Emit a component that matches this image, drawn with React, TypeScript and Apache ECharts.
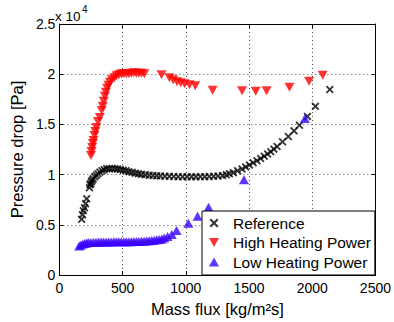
import React, { useEffect, useRef } from "react";
import * as echarts from "echarts";

const xTicks = [0, 500, 1000, 1500, 2000, 2500];
const yTicks = [0, 5000, 10000, 15000, 20000, 25000];

const referenceData: [number, number][] = [
  [176, 5560], [183, 6000], [190, 6400], [199, 6700], [207, 7100], [216, 7600],
  [238, 8700], [242, 9000], [248, 9100], [253, 9300], [260, 9450], [268, 9600],
  [280, 9800], [292, 9950], [305, 10100], [320, 10250], [337, 10400], [355, 10500],
  [375, 10600], [396, 10600], [418, 10620], [440, 10600], [460, 10570], [482, 10520],
  [505, 10450], [527, 10380], [550, 10300], [575, 10230], [600, 10150], [625, 10080],
  [650, 10030], [680, 9980], [710, 9950], [740, 9920], [770, 9900], [800, 9870],
  [835, 9850], [870, 9830], [905, 9810], [940, 9800], [975, 9790], [1010, 9790],
  [1045, 9780], [1080, 9780], [1115, 9790], [1150, 9800], [1185, 9810], [1220, 9830],
  [1255, 9860], [1290, 9920], [1320, 10000], [1345, 10100], [1376, 10200], [1410, 10380],
  [1445, 10570], [1474, 10760], [1503, 10970], [1533, 11180], [1563, 11390], [1592, 11610],
  [1621, 11830], [1647, 12050], [1672, 12280], [1697, 12540], [1722, 12810], [1765, 13270],
  [1811, 13800], [1856, 14360], [1899, 14920], [1962, 15800], [2025, 16800], [2139, 18480],
];

const highPowerData: [number, number][] = [
  [250, 11900], [255, 12300], [260, 12700], [265, 13100], [270, 13400], [278, 13900],
  [285, 14300], [293, 14700], [305, 15300], [320, 15700], [335, 16400], [343, 16800],
  [351, 17300], [360, 17800], [368, 18200], [378, 18600], [388, 18900], [400, 19200],
  [415, 19450], [434, 19650], [452, 19850], [470, 19950], [490, 20050], [510, 20050],
  [530, 20050], [550, 20050], [570, 20100], [590, 20150], [610, 20100], [630, 20100],
  [650, 20100], [672, 20050], [808, 19950], [870, 19650], [900, 19450], [930, 19250],
  [960, 19150], [990, 19050], [1030, 18950], [1075, 18850], [1212, 18400], [1445, 18350],
  [1553, 18300], [1639, 18350], [1820, 18700], [1975, 19300], [2083, 19900],
];

const lowPowerData: [number, number][] = [
  [157, 2900], [170, 3000], [185, 3100], [200, 3150], [215, 3200], [230, 3250],
  [250, 3250], [270, 3280], [290, 3280], [310, 3300], [330, 3300], [350, 3300],
  [370, 3300], [390, 3300], [410, 3300], [430, 3320], [450, 3320], [470, 3320],
  [490, 3320], [510, 3330], [530, 3330], [550, 3330], [570, 3330], [590, 3340],
  [610, 3340], [630, 3350], [650, 3360], [670, 3380], [690, 3400], [710, 3420],
  [730, 3450], [750, 3480], [770, 3520], [790, 3550], [810, 3600], [830, 3700],
  [856, 3850], [889, 4050], [927, 4450], [1020, 5150], [1093, 5850], [1180, 6750],
  [1460, 9500], [1942, 15600],
];

const seriesNames = ["Reference", "High Heating Power", "Low Heating Power"];

const CROSS = "path://M0,1.6L1.6,0L5,3.4L8.4,0L10,1.6L6.6,5L10,8.4L8.4,10L5,6.6L1.6,10L0,8.4L3.4,5Z";
const TRI_DOWN = "path://M0,0L10,0L5,9Z";
const TRI_UP = "path://M5,0L10,9L0,9Z";

const FONT = "'Liberation Sans', Arial, Helvetica, sans-serif";

export default function App() {
  const ref = useRef<HTMLDivElement>(null);

  useEffect(() => {
    if (!ref.current) return;
    const chart = echarts.init(ref.current, undefined, { renderer: "svg" });
    const gridLine = { show: true, lineStyle: { color: "#222", width: 0.8, type: [1, 3] as any } };
    const axisLine = { show: true, onZero: false, lineStyle: { color: "#000", width: 1 } };
    const tick = { show: true, inside: true, length: 4, lineStyle: { color: "#000" } };
    chart.setOption({
      animation: false,
      backgroundColor: "#fff",
      grid: { left: 51, top: 24, right: 12.5, bottom: 45, containLabel: false },
      xAxis: [
        {
          type: "value",
          min: xTicks[0],
          max: xTicks[xTicks.length - 1],
          interval: 500,
          position: "bottom",
          axisLine,
          axisTick: tick,
          axisLabel: {
            fontSize: 14,
            color: "#000",
            fontFamily: FONT,
            margin: 6,
            formatter: (v: number) => String(v),
          },
          splitLine: gridLine,
          name: "Mass flux [kg/m²s]",
          nameLocation: "middle",
          nameGap: 23,
          nameTextStyle: { fontSize: 16.5, color: "#000", fontFamily: FONT },
        },
        {
          type: "value",
          min: xTicks[0],
          max: xTicks[xTicks.length - 1],
          interval: 500,
          position: "top",
          axisLine,
          axisTick: tick,
          axisLabel: { show: false },
          splitLine: { show: false },
        },
      ],
      yAxis: [
        {
          type: "value",
          min: yTicks[0],
          max: yTicks[yTicks.length - 1],
          interval: 5000,
          position: "left",
          axisLine,
          axisTick: tick,
          axisLabel: {
            fontSize: 14,
            color: "#000",
            fontFamily: FONT,
            margin: 4,
            formatter: (v: number) => String(v / 10000),
          },
          splitLine: gridLine,
          name: "Pressure drop [Pa]",
          nameLocation: "middle",
          nameGap: 28,
          nameTextStyle: { fontSize: 16.5, color: "#000", fontFamily: FONT },
        },
        {
          type: "value",
          min: yTicks[0],
          max: yTicks[yTicks.length - 1],
          interval: 5000,
          position: "right",
          axisLine,
          axisTick: tick,
          axisLabel: { show: false },
          splitLine: { show: false },
        },
      ],
      legend: {
        orient: "vertical",
        left: 202,
        top: 211,
        padding: [4, 4, 5, 7],
        itemWidth: 28,
        itemHeight: 9,
        itemGap: 3.5,
        borderColor: "#000",
        borderWidth: 1,
        borderRadius: 0,
        backgroundColor: "#fff",
        textStyle: { fontSize: 15.5, color: "#000", fontFamily: FONT, lineHeight: 15.5 },
        data: [
          { name: seriesNames[0], icon: CROSS },
          { name: seriesNames[1], icon: TRI_DOWN },
          { name: seriesNames[2], icon: TRI_UP },
        ],
      },
      graphic: [
        {
          type: "text",
          left: 55,
          top: 9,
          style: { text: "x 10", fontSize: 13.5, fontFamily: FONT, fill: "#000" },
        },
        {
          type: "text",
          left: 82,
          top: 4,
          style: { text: "4", fontSize: 10, fontFamily: FONT, fill: "#000" },
        },
      ],
      series: [
        {
          name: seriesNames[0],
          type: "scatter",
          data: referenceData,
          symbol: CROSS,
          symbolSize: 8,
          itemStyle: { color: "#000" },
        },
        {
          name: seriesNames[1],
          type: "scatter",
          data: highPowerData,
          symbol: TRI_DOWN,
          symbolSize: [10, 9],
          itemStyle: { color: "#ff0000" },
        },
        {
          name: seriesNames[2],
          type: "scatter",
          data: lowPowerData,
          symbol: TRI_UP,
          symbolSize: [10, 9],
          itemStyle: { color: "#3a00ff" },
        },
      ],
    });
    return () => chart.dispose();
  }, []);

  return <div ref={ref} style={{ width: 394, height: 322, position: "absolute", left: 0, top: 0 }} />;
}
